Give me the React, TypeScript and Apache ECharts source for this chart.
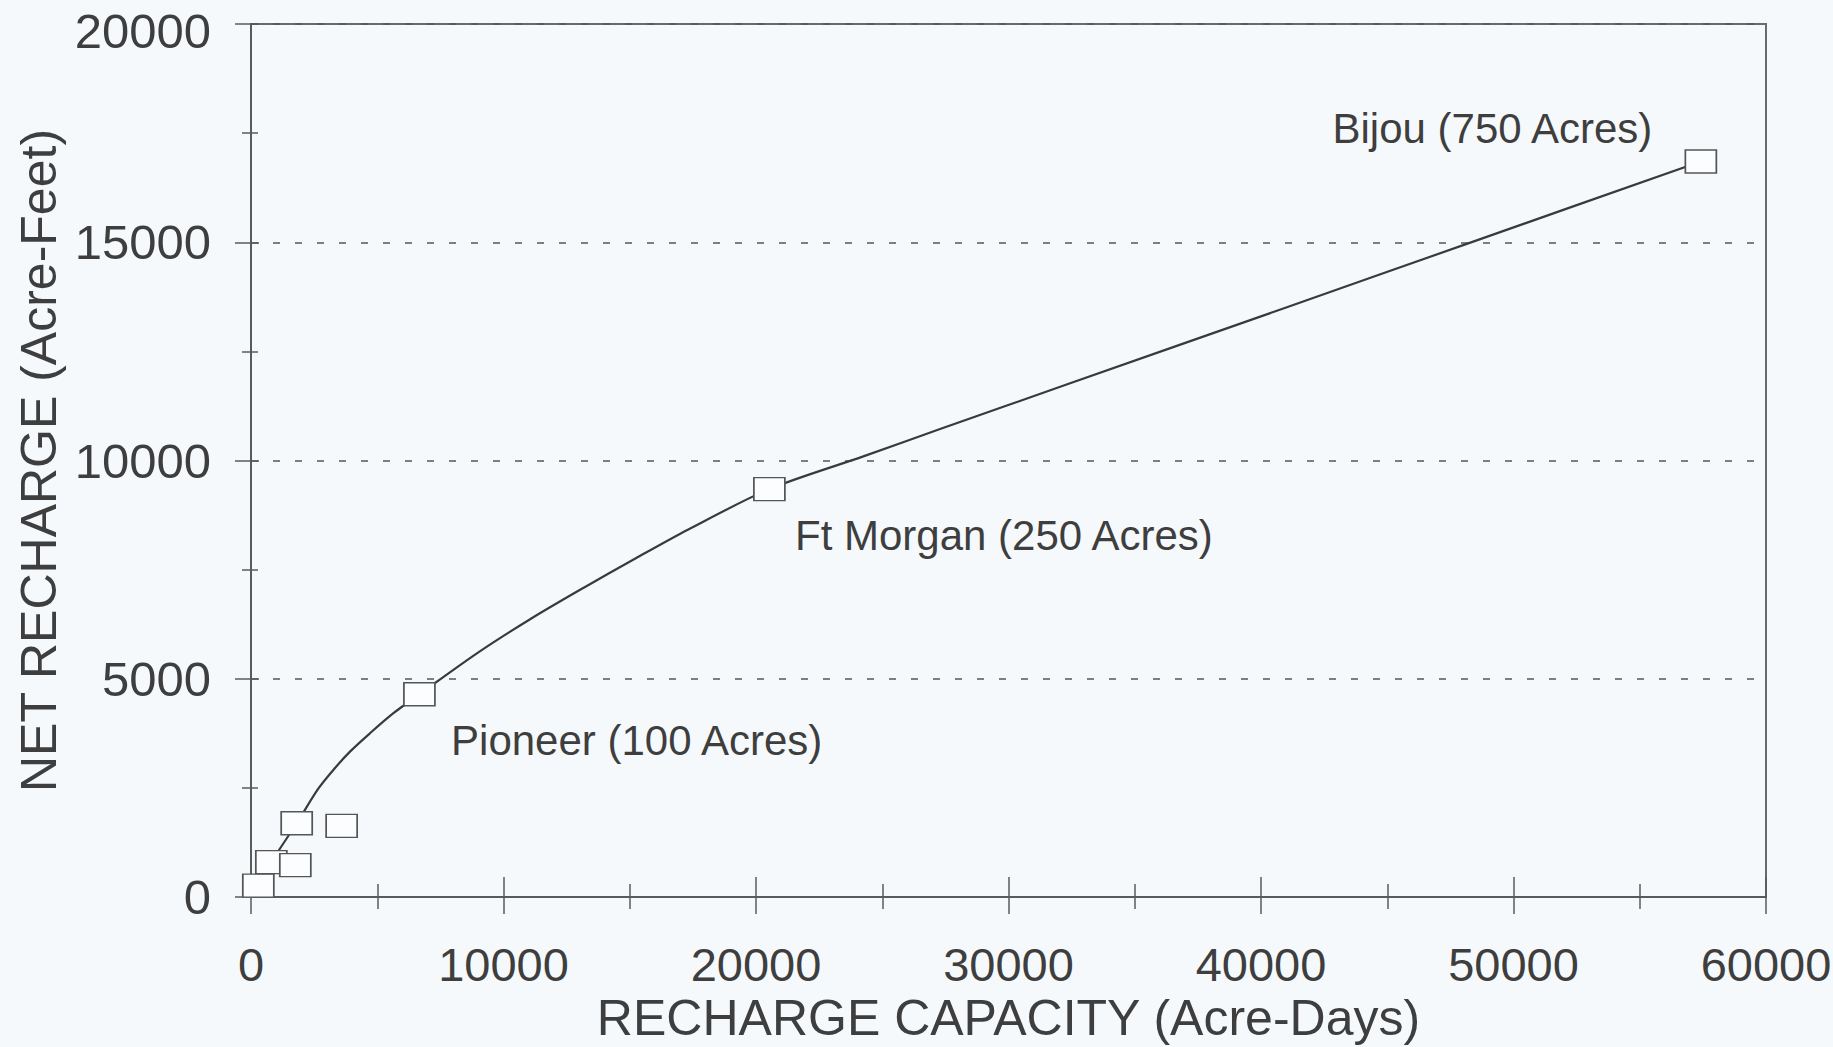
import React, { useEffect, useRef } from "react";
import * as echarts from "echarts";

const capacity = [290, 805, 1755, 1810, 3590, 6670, 20530, 57420]; // Acre-Days
const recharge = [260, 800, 730, 1690, 1630, 4645, 9345, 16850]; // Acre-Feet
const siteNames: Record<number, string> = {
  5: "Pioneer (100 Acres)",
  6: "Ft Morgan (250 Acres)",
  7: "Bijou (750 Acres)",
};
// Fitted curve, points
const curveX = [290, 805, 1810, 2665, 3260, 3920, 4710, 5640, 6670, 8990, 11070, 13160, 15240, 17320, 20530, 24250, 27290, 32300, 40800, 48600, 57420];
const curveY = [260, 800, 1690, 2480, 2910, 3330, 3750, 4210, 4645, 5600, 6370, 7080, 7760, 8420, 9345, 10095, 10720, 11740, 13465, 15055, 16850];

const xTitle = "RECHARGE CAPACITY (Acre-Days)";
const yTitle = "NET RECHARGE (Acre-Feet)";

const labelPos: Record<number, [number, number]> = {
  5: [48, 58],
  6: [42, 59],
  7: [-352, -21],
};

const FONT = "'Liberation Sans', Arial, Helvetica, sans-serif";
const INK = "#3e3e3e";
const AXIS = "#5a5a5a";
const BG = "#f6f9fc";

export default function App() {
  const ref = useRef<HTMLDivElement>(null);
  useEffect(() => {
    if (!ref.current) return;
    const chart = echarts.init(ref.current, null, { renderer: "svg" });
    const pts = capacity.map((x, i) => {
      const item: any = { value: [x, recharge[i]] };
      if (siteNames[i]) {
        item.label = {
          show: true,
          formatter: siteNames[i],
          position: labelPos[i],
          align: "left",
          verticalAlign: "middle",
          fontSize: 42,
          fontFamily: FONT,
          color: INK,
        };
      }
      return item;
    });
    const curve = curveX.map((x, i) => [x, curveY[i]]);
    const plain = (v: number) => String(v);
    const baseX = {
      type: "value",
      min: 0,
      max: 60000,
      interval: 10000,
      position: "bottom",
      splitLine: { show: false },
    };
    const baseY = {
      type: "value",
      min: 0,
      max: 20000,
      interval: 5000,
      position: "left",
    };
    chart.setOption({
      animation: false,
      backgroundColor: BG,
      grid: {
        left: 251,
        right: 67,
        top: 24,
        bottom: 150,
        show: true,
        borderColor: "#6a6a6a",
        borderWidth: 2,
        backgroundColor: "transparent",
        containLabel: false,
        outerBoundsMode: "none",
      },
      xAxis: [
        {
          ...baseX,
          name: xTitle,
          nameLocation: "middle",
          nameGap: 96,
          nameTextStyle: { fontSize: 50, lineHeight: 50, fontFamily: FONT, color: INK, verticalAlign: "top" },
          axisLine: { show: true, lineStyle: { color: AXIS, width: 2 } },
          axisTick: { show: true, inside: false, length: 17, lineStyle: { color: AXIS, width: 1.5 } },
          minorTick: { show: true, splitNumber: 2, length: 12, lineStyle: { color: AXIS, width: 1.5 } },
          axisLabel: { fontSize: 47, fontFamily: FONT, color: INK, margin: 44, formatter: plain },
        },
        {
          ...baseX,
          axisLine: { show: false },
          axisTick: { show: true, inside: true, length: 20, lineStyle: { color: AXIS, width: 1.5 } },
          minorTick: { show: true, splitNumber: 2, length: 13, lineStyle: { color: AXIS, width: 1.5 } },
          axisLabel: { show: false },
        },
      ],
      yAxis: [
        {
          ...baseY,
          name: yTitle,
          nameLocation: "middle",
          nameGap: 180,
          nameTextStyle: { fontSize: 50, fontFamily: FONT, color: INK },
          axisLine: { show: true, lineStyle: { color: AXIS, width: 2 } },
          axisTick: { show: true, inside: false, length: 16, lineStyle: { color: AXIS, width: 1.5 } },
          minorTick: { show: true, splitNumber: 2, length: 9, lineStyle: { color: AXIS, width: 1.5 } },
          axisLabel: {
            fontSize: 49,
            lineHeight: 44,
            fontFamily: FONT,
            color: INK,
            margin: 40,
            formatter: (v: number) => (v === 20000 ? `{t|${v}}` : String(v)),
            rich: {
              t: { fontSize: 49, lineHeight: 44, fontFamily: FONT, color: INK, padding: [14, 0, 0, 0] },
            },
          },
          splitLine: {
            show: true,
            lineStyle: { color: "#555", width: 1.5, type: [7, 15] },
          },
        },
        {
          ...baseY,
          axisLine: { show: false },
          axisTick: { show: true, inside: true, length: 8, lineStyle: { color: AXIS, width: 1.5 } },
          minorTick: { show: true, splitNumber: 2, length: 7, lineStyle: { color: AXIS, width: 1.5 } },
          axisLabel: { show: false },
          splitLine: { show: false },
        },
      ],
      series: [
        {
          type: "line",
          data: curve,
          smooth: 0.3,
          showSymbol: false,
          symbol: "none",
          lineStyle: { color: "#3a3a3a", width: 2.2 },
          z: 2,
        },
        {
          type: "scatter",
          data: pts,
          symbol: "rect",
          symbolSize: [31, 23],
          itemStyle: { color: "#fbfdff", borderColor: "#555", borderWidth: 1.5, opacity: 1 },
          z: 3,
        },
      ],
    });
    return () => chart.dispose();
  }, []);
  return (
    <div
      ref={ref}
      style={{ position: "fixed", left: 0, top: 0, width: 1833, height: 1047, background: BG }}
    />
  );
}
